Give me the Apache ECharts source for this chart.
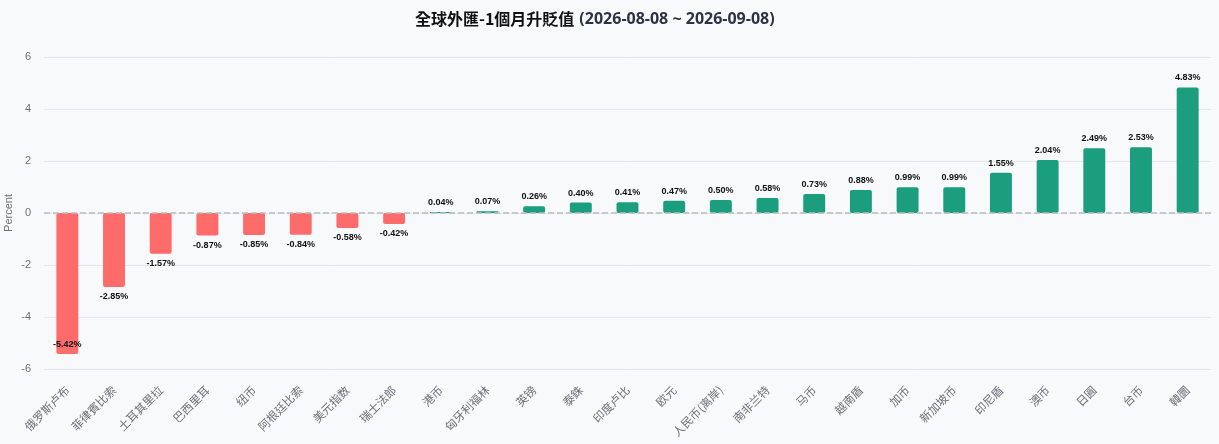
<!DOCTYPE html>
<html>
<head>
<meta charset="utf-8">
<script src="https://cdn.jsdelivr.net/npm/echarts@6/dist/echarts.min.js"></script>
<style>
html,body{margin:0;padding:0;background:#f8f9fb;}
#chart{width:1219px;height:444px;}
</style>
</head>
<body>
<div id="chart"></div>
<script>
const categories = ['俄罗斯卢布','菲律賓比索','土耳其里拉','巴西里耳','纽币','阿根廷比索','美元指数','瑞士法郎','港币','匈牙利福林','英镑','泰銖','印度卢比','欧元','人民币(离岸)','南非兰特','马币','越南盾','加币','新加坡币','印尼盾','澳币','日圓','台币','韓圜'];
const values = [-5.42,-2.85,-1.57,-0.87,-0.85,-0.84,-0.58,-0.42,0.04,0.07,0.26,0.40,0.41,0.47,0.50,0.58,0.73,0.88,0.99,0.99,1.55,2.04,2.49,2.53,4.83];
const yTicks = [-6,-4,-2,0,2,4,6];

const chart = echarts.init(document.getElementById('chart'));
const data = values.map(v => ({
  value: v,
  itemStyle: { color: v >= 0 ? '#1a9e7e' : '#fd6b6b', borderRadius: 2 },
  label: { position: v >= 0 ? 'top' : (v < -5 ? 'insideBottom' : 'bottom') }
}));
chart.setOption({
  backgroundColor: '#f8f9fb',
  title: {
    text: '{a|全球外匯-1個月升貶值} {b|(2026-08-08 ~ 2026-09-08)}',
    left: 410,
    top: 5,
    textStyle: {
      rich: {
        a: { fontSize: 16, fontWeight: 'bold', color: '#111', fontFamily: 'Noto Sans CJK TC' },
        b: { fontSize: 16, fontWeight: 'bold', color: '#2c3345', fontFamily: 'Open Sans' }
      }
    }
  },
  grid: { left: 44, right: 8, top: 57, bottom: 75, outerBoundsMode: 'none', containLabel: false },
  xAxis: {
    type: 'category',
    data: categories,
    axisLine: { show: false },
    axisTick: { show: false },
    axisLabel: { rotate: 45, color: '#6e7079', fontSize: 11.5, margin: 19, interval: 0, fontFamily: 'Noto Sans CJK SC' }
  },
  yAxis: {
    type: 'value',
    min: yTicks[0],
    max: yTicks[yTicks.length - 1],
    interval: 2,
    name: 'Percent',
    nameLocation: 'middle',
    nameGap: 30,
    nameMoveOverlap: false,
    nameTextStyle: { color: '#6e7079', fontSize: 11 },
    axisLabel: { color: '#6e7079', fontSize: 11, margin: 13 },
    splitLine: { lineStyle: { color: '#e4e6ea' } }
  },
  series: [{
    type: 'bar',
    data: data,
    barWidth: '47%',
    label: {
      show: true,
      formatter: p => p.value.toFixed(2) + '%',
      color: '#111',
      fontSize: 9,
      fontWeight: 'bold',
      distance: 5
    },
    markLine: {
      silent: true,
      symbol: 'none',
      label: { show: false },
      lineStyle: { color: '#b8bcc4', type: 'dashed', width: 1.5 },
      data: [{ yAxis: 0 }]
    }
  }]
});
</script>
</body>
</html>
